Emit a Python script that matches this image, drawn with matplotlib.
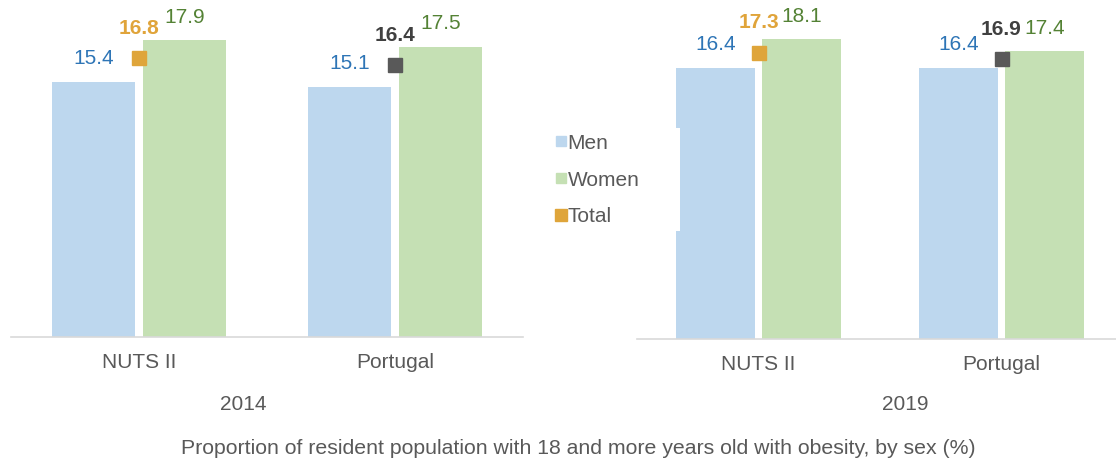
import matplotlib
matplotlib.use("Agg")
import matplotlib.pyplot as plt
from matplotlib.lines import Line2D
from matplotlib.patches import Rectangle

plt.rcParams['font.family'] = ['Liberation Sans', 'DejaVu Sans']

categories = ["NUTS II", "Portugal"]
years = ["2014", "2019"]
men = [[15.4, 15.1], [16.4, 16.4]]
women = [[17.9, 17.5], [18.1, 17.4]]
total = [[16.8, 16.4], [17.3, 16.9]]
title = "Proportion of resident population with 18 and more years old with obesity, by sex (%)"

MEN_C = "#BDD7EE"
WOMEN_C = "#C5E0B4"
TOT_C = ["#DFA53A", "#595959"]
MEN_T = "#2E75B6"
WOMEN_T = "#548235"
TOT_T = ["#E0A43A", "#404040"]
GREY = "#595959"

W, H = 1116, 466
fig = plt.figure(figsize=(W / 100, H / 100), dpi=100)

# axes placed in pixels: (left, right, baseline, px per unit)
boxes = [(11, 523, 337, 16.58), (637, 1123, 339, 16.55)]
year_pos = [(243, 404), (905, 405)]

bw = 0.322
off = 0.177
for k, (x0, x1, base, ppu) in enumerate(boxes):
    ax = fig.add_axes([x0 / W, (H - base) / H, (x1 - x0) / W, 20 * ppu / H])
    ax.set_xlim(-0.5, 1.5)
    ax.set_ylim(0, 20)
    for s in ["top", "left", "right"]:
        ax.spines[s].set_visible(False)
    ax.spines["bottom"].set_color("#D9D9D9")
    ax.spines["bottom"].set_linewidth(1.2)
    ax.set_xticks([])
    ax.set_yticks([])
    ax.patch.set_alpha(0)
    for i, cat in enumerate(categories):
        ax.bar(i - off, men[k][i], width=bw, color=MEN_C, zorder=2)
        ax.bar(i + off, women[k][i], width=bw, color=WOMEN_C, zorder=2)
        ax.plot(i, total[k][i], marker="s", ms=10, color=TOT_C[i],
                ls="none", zorder=3)
        ax.annotate(f"{men[k][i]:.1f}", (i - off, men[k][i]), xytext=(0, 23),
                    textcoords="offset pixels", ha="center", va="center",
                    fontsize=15, color=MEN_T)
        ax.annotate(f"{women[k][i]:.1f}", (i + off, women[k][i]), xytext=(0, 23),
                    textcoords="offset pixels", ha="center", va="center",
                    fontsize=15, color=WOMEN_T)
        ax.annotate(f"{total[k][i]:.1f}", (i, total[k][i]), xytext=(0, 30),
                    textcoords="offset pixels", ha="center", va="center",
                    fontsize=15, color=TOT_T[i], fontweight="bold")
        ax.annotate(cat, (i, 0), xytext=(0, -25), textcoords="offset pixels",
                    ha="center", va="center", fontsize=15, color=GREY)
    fig.text(year_pos[k][0] / W, 1 - year_pos[k][1] / H, years[k],
             ha="center", va="center", fontsize=15, color=GREY)

fig.text(578 / W, 1 - 449 / H, title, ha="center", va="center",
         fontsize=15.3, color=GREY)

# white legend box, it overlaps the first bar of the right panel
fig.add_artist(Rectangle((540 / W, 1 - 231 / H), 140 / W, 103 / H,
                         transform=fig.transFigure, facecolor="white",
                         edgecolor="none", zorder=5))

handles = [
    Line2D([], [], marker="s", ls="none", ms=7, color=MEN_C),
    Line2D([], [], marker="s", ls="none", ms=7, color=WOMEN_C),
    Line2D([], [], marker="s", ls="none", ms=8, color=TOT_C[0]),
]
leg = fig.legend(handles, ["Men", "Women", "Total"], loc="center left",
                 bbox_to_anchor=(550 / W, 1 - 180 / H), fontsize=15,
                 frameon=False, handlelength=0.5, handletextpad=0.05,
                 labelspacing=0.86, borderpad=0.3, borderaxespad=0)
leg.set_zorder(6)
for t in leg.get_texts():
    t.set_color(GREY)

fig.savefig("out.png", dpi=100)
